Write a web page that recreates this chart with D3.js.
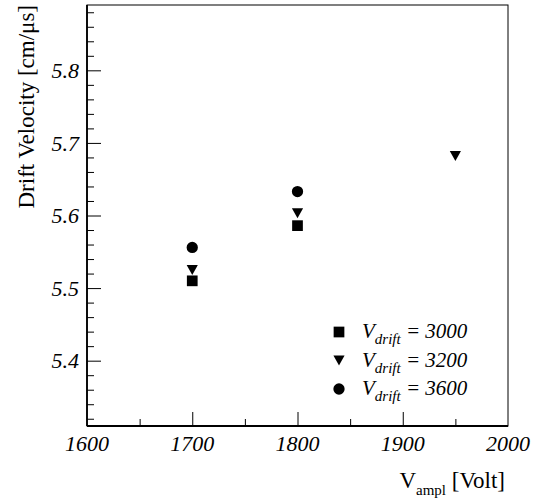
<!DOCTYPE html>
<html>
<head>
 <meta charset="UTF-8">
 <script src="https://cdn.jsdelivr.net/npm/d3@7"></script>
 <style>
body {
  margin: 0;
  background: #fff;
}
svg text {
  font-family: "Liberation Serif", "Times New Roman", Times, serif;
  fill: #000;
}
.ticklabel {
  font-style: italic;
  font-size: 22px;
}
.legend text {
  font-style: italic;
  font-size: 21px;
}
.title {
  font-size: 23px;
}
 </style>
</head>
<body>
<svg id="chart" width="542" height="502"></svg>
<script>
// values
var xTicks = [1600, 1700, 1800, 1900, 2000],
  yTicks = [5.4, 5.5, 5.6, 5.7, 5.8],
  vdrift = ["3000", "3200", "3600"],
  ampl3000 = [1700, 1800],
  vel3000 = [5.510, 5.586],
  ampl3200 = [1700, 1800, 1950],
  vel3200 = [5.525, 5.603, 5.682],
  ampl3600 = [1700, 1800],
  vel3600 = [5.556, 5.633];

var svg = d3.select("#chart"),
  padL = 87, padR = 508, padT = 5, padB = 426,
  x = d3.scaleLinear().domain([1600, 2000]).range([padL, padR]),
  y = d3.scaleLinear().domain([5.31, 5.89]).range([padB, padT]);

// triangle pointing down, centred on its box
var triDown = {
  draw: function(ctx, size) {
    var w = Math.sqrt(size), h = w * 0.9;
    ctx.moveTo(-w / 2, -h / 2);
    ctx.lineTo(w / 2, -h / 2);
    ctx.lineTo(0, h / 2);
    ctx.closePath();
  }
};
var shapes = [d3.symbol(d3.symbolSquare, 115), d3.symbol(triDown, 125), d3.symbol(d3.symbolCircle, 100)];

// frame
svg.append("rect")
  .attr("x", padL).attr("y", padT)
  .attr("width", padR - padL).attr("height", padB - padT)
  .attr("fill", "none").attr("stroke", "#000").attr("stroke-width", 1);

// y axis (ticks inside)
var ya = svg.append("g").attr("transform", "translate(" + padL + ",0)");
ya.call(d3.axisRight(y).tickValues(d3.range(5.32, 5.885, 0.02)).tickSize(7).tickFormat(""));
ya.call(function(g) {
  g.selectAll(".tick line").filter(function(d) {
    return yTicks.some(function(t) { return Math.abs(t - d) < 1e-6; });
  }).attr("x2", 14);
  g.select(".domain").remove();
});
svg.append("line").attr("x1", padL).attr("x2", padL).attr("y1", padT).attr("y2", padB)
  .attr("stroke", "#000").attr("stroke-width", 1.8);
yTicks.forEach(function(t) {
  svg.append("text").attr("class", "ticklabel")
    .attr("x", padL - 8).attr("y", y(t)).attr("dy", "0.35em")
    .attr("text-anchor", "end").text(d3.format(".1f")(t));
});

// x axis (ticks inside)
var xa = svg.append("g").attr("transform", "translate(0," + padB + ")");
xa.call(d3.axisTop(x).tickValues(d3.range(1650, 2000, 50)).tickSize(7).tickFormat(""));
xa.call(function(g) {
  g.selectAll(".tick line").filter(function(d) { return d % 100 === 0; }).attr("y2", -14);
  g.select(".domain").remove();
});
svg.append("line").attr("x1", padL).attr("x2", padR).attr("y1", padB).attr("y2", padB)
  .attr("stroke", "#000").attr("stroke-width", 1.8);
xTicks.forEach(function(t) {
  svg.append("text").attr("class", "ticklabel")
    .attr("x", x(t)).attr("y", 451)
    .attr("text-anchor", "middle").text(t);
});

// titles
var xt = svg.append("text").attr("class", "title")
  .attr("x", 505).attr("y", 488).attr("text-anchor", "end");
xt.append("tspan").text("V");
xt.append("tspan").attr("dy", 7).style("font-size", "15px").text("ampl");
xt.append("tspan").attr("dy", -7).text(" [Volt]");

svg.append("text").attr("class", "title")
  .attr("transform", "translate(34,5) rotate(-90)")
  .attr("text-anchor", "end")
  .text("Drift Velocity [cm/\u03bcs]");

// points
[[ampl3000, vel3000], [ampl3200, vel3200], [ampl3600, vel3600]].forEach(function(s, i) {
  svg.append("g").selectAll("path").data(s[0]).join("path")
    .attr("d", shapes[i])
    .attr("transform", function(d, j) { return "translate(" + x(d) + "," + y(s[1][j]) + ")"; })
    .attr("fill", "#000");
});

// legend
var lg = svg.append("g").attr("class", "legend");
vdrift.forEach(function(v, i) {
  var ly = 332 + i * 28.5;
  lg.append("path").attr("d", shapes[i])
    .attr("transform", "translate(339," + ly + ")").attr("fill", "#000");
  var t = lg.append("text").attr("x", 362).attr("y", ly + 6);
  t.append("tspan").text("V");
  t.append("tspan").attr("dy", 6).style("font-size", "15px").text("drift");
  t.append("tspan").attr("dy", -6).text(" = " + v);
});
</script>
</body>
</html>
